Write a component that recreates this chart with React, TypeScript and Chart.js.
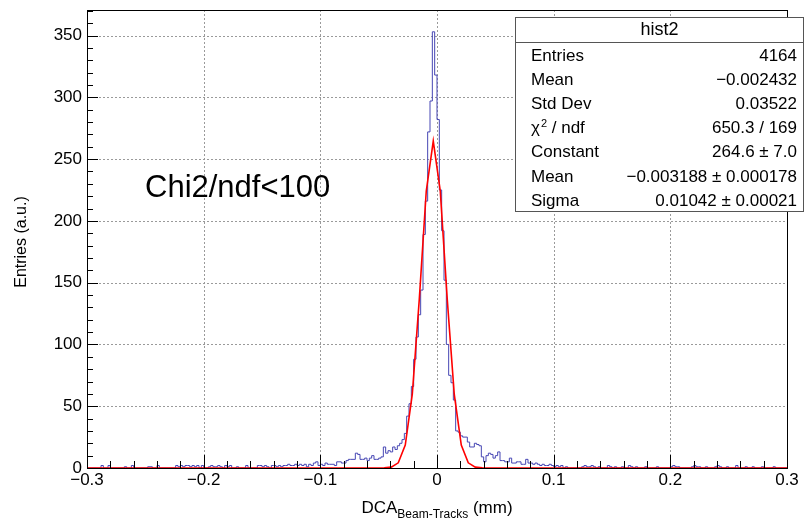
import React, { useEffect, useRef } from 'react';
import { Chart, registerables } from 'chart.js';

Chart.register(...registerables);

// ---- axis ranges / binning ----
const X_MIN = -0.3;
const X_MAX = 0.3;
const BIN_WIDTH = 0.002;
const Y_MAX = 370.65;

// ---- histogram counts (hist2), 300 bins of 0.002 from -0.3 to 0.3 ----
const countsLeftTail = [
  0, 0, 0, 0, 0, 0, 2, 0, 0, 2,
  0, 0, 0, 0, 0, 0, 1, 0, 0, 2,
  0, 0, 0, 0, 0, 0, 1, 1, 0, 0,
  2, 0, 0, 0, 0, 0, 0, 0, 2, 1,
  2, 1, 2, 2, 1, 2, 1, 2, 0, 2,
  0, 0, 1, 2, 1, 1, 2, 1, 0, 2,
  1, 2, 0, 0, 1, 0, 0, 0, 2, 0,
  0, 0, 0, 2, 2, 1, 2, 1, 0, 2,
  2, 1, 2, 1, 2, 2, 3, 2, 2, 3,
];
const countsCore = [
  2, 3, 2, 3, 1, 3, 2, 4, 5, 2,
  3, 2, 4, 3, 3, 3, 2, 5, 5, 4,
  4, 6, 7, 7, 7, 12, 11, 7, 7, 8,
  6, 8, 10, 7, 7, 8, 9, 17, 12, 14,
  13, 17, 15, 18, 20, 23, 28, 42, 52, 66,
  88, 106, 124, 144, 189, 216, 272, 297, 353, 318,
  282, 225, 192, 152, 100, 75, 69, 55, 30, 29,
  26, 25, 25, 21, 17, 17, 20, 19, 18, 9,
  5, 10, 12, 11, 8, 10, 13, 6, 6, 5,
  5, 8, 4, 4, 5, 5, 3, 3, 7, 4,
  4, 3, 4, 3, 2, 3, 2, 2, 3, 2,
  1, 2, 1, 2, 0, 1, 0, 0, 0, 0,
];
const countsRightTail = [
  0, 0, 1, 2, 1, 1, 2, 1, 0, 1,
  0, 0, 0, 2, 1, 0, 1, 0, 0, 1,
  0, 0, 2, 1, 0, 1, 0, 0, 0, 1,
  0, 0, 0, 0, 1, 0, 0, 0, 0, 0,
  1, 2, 1, 1, 0, 0, 0, 0, 0, 1,
  2, 1, 1, 0, 0, 1, 0, 0, 0, 1,
  2, 1, 0, 0, 1, 0, 0, 0, 2, 0,
  0, 0, 1, 0, 0, 1, 0, 0, 0, 1,
  0, 0, 0, 0, 1, 0, 0, 0, 0, 0,
];

// ---- gaussian fit curve, as drawn (sampled points) ----
const fitX = [-0.3, -0.0512, -0.0452, -0.0392, -0.0332, -0.0272, -0.0212, -0.0152, -0.0092, -0.0032,
  0.0028, 0.0088, 0.0148, 0.0208, 0.0268, 0.0328, 0.0388, 0.0448, 0.3];
const fitY = [0, 0, 0.08, 0.68, 4.2, 18.6, 59.5, 136.3, 224.2, 264.6,
  224.2, 136.3, 59.5, 18.6, 4.2, 0.68, 0.08, 0, 0];

// ---- ticks ----
const xTickValues = [-0.3, -0.2, -0.1, 0, 0.1, 0.2, 0.3];
const yTickValues = [0, 50, 100, 150, 200, 250, 300, 350];
const X_MINOR_STEP = 0.02;
const Y_MINOR_STEP = 10;

// ---- stats box ----
const statTitle = 'hist2';
const statLabels = ['Entries', 'Mean', 'Std Dev', 'CHI2', 'Constant', 'Mean', 'Sigma'];
const statValues = ['4164', '\u22120.002432', '0.03522', '650.3 / 169', '264.6 \u00b1 7.0',
  '\u22120.003188 \u00b1 0.000178', '0.01042 \u00b1 0.00021'];

const annotationText = 'Chi2/ndf<100';
const yTitle = 'Entries (a.u.)';
const xTitleMain = 'DCA';
const xTitleSub = 'Beam-Tracks';
const xTitleUnit = ' (mm)';

const FONT = '"Liberation Sans", Arial, Helvetica, sans-serif';

function fmtX(v: number): string {
  if (Math.abs(v) < 1e-9) return '0';
  const s = Math.abs(v).toFixed(1);
  return v < 0 ? '\u2212' + s : s;
}

const rootPlugin = {
  id: 'rootDecor',
  beforeDatasetsDraw(chart: any) {
    const ctx = chart.ctx;
    const { left, right, top, bottom } = chart.chartArea;
    const xs = chart.scales.x;
    const ys = chart.scales.y;
    ctx.save();
    ctx.strokeStyle = '#9a9a9a';
    ctx.lineWidth = 1;
    ctx.setLineDash([2, 2]);
    xTickValues.forEach((v) => {
      if (v <= X_MIN || v >= X_MAX) return;
      const px = Math.round(xs.getPixelForValue(v)) + 0.5;
      ctx.beginPath();
      ctx.moveTo(px, top);
      ctx.lineTo(px, bottom);
      ctx.stroke();
    });
    yTickValues.forEach((v) => {
      if (v <= 0) return;
      const py = Math.round(ys.getPixelForValue(v)) + 0.5;
      ctx.beginPath();
      ctx.moveTo(left, py);
      ctx.lineTo(right, py);
      ctx.stroke();
    });
    ctx.restore();
  },
  afterDatasetsDraw(chart: any) {
    const ctx = chart.ctx;
    const { left, right, top, bottom } = chart.chartArea;
    const xs = chart.scales.x;
    const ys = chart.scales.y;
    ctx.save();
    ctx.strokeStyle = '#000';
    ctx.lineWidth = 1;
    ctx.setLineDash([]);
    ctx.strokeRect(Math.round(left) + 0.5, Math.round(top) + 0.5, Math.round(right - left), Math.round(bottom - top));
    const nX = Math.round((X_MAX - X_MIN) / X_MINOR_STEP);
    for (let k = 0; k <= nX; k++) {
      const v = X_MIN + k * X_MINOR_STEP;
      const px = Math.round(xs.getPixelForValue(v)) + 0.5;
      const len = k % 5 === 0 ? 13 : 7;
      ctx.beginPath();
      ctx.moveTo(px, bottom);
      ctx.lineTo(px, bottom - len);
      ctx.stroke();
    }
    for (let k = 0; k * Y_MINOR_STEP <= Y_MAX; k++) {
      const v = k * Y_MINOR_STEP;
      const py = Math.round(ys.getPixelForValue(v)) + 0.5;
      const len = k % 5 === 0 ? 11 : 6;
      ctx.beginPath();
      ctx.moveTo(left, py);
      ctx.lineTo(left + len, py);
      ctx.stroke();
    }
    ctx.restore();
  },
  afterDraw(chart: any) {
    const ctx = chart.ctx;
    ctx.save();
    ctx.fillStyle = '#000';

    ctx.font = `31px ${FONT}`;
    ctx.textAlign = 'left';
    ctx.textBaseline = 'alphabetic';
    ctx.fillText(annotationText, 145, 197);

    ctx.save();
    ctx.translate(22, 242);
    ctx.rotate(-Math.PI / 2);
    ctx.font = `16px ${FONT}`;
    ctx.textAlign = 'center';
    ctx.textBaseline = 'middle';
    ctx.fillText(yTitle, 0, 0);
    ctx.restore();

    ctx.textAlign = 'left';
    ctx.textBaseline = 'alphabetic';
    ctx.font = `17px ${FONT}`;
    const w1 = ctx.measureText(xTitleMain).width;
    const w3 = ctx.measureText(xTitleUnit).width;
    ctx.font = `12px ${FONT}`;
    const w2 = ctx.measureText(xTitleSub).width;
    const total = w1 + w2 + w3;
    const x0 = 437 - total / 2;
    ctx.font = `17px ${FONT}`;
    ctx.fillText(xTitleMain, x0, 513);
    ctx.font = `12px ${FONT}`;
    ctx.fillText(xTitleSub, x0 + w1, 518);
    ctx.font = `17px ${FONT}`;
    ctx.fillText(xTitleUnit, x0 + w1 + w2, 513);

    const bx = 515.5, by = 17.5, bw = 288, bh = 194;
    ctx.fillStyle = '#fff';
    ctx.fillRect(bx, by, bw, bh);
    ctx.strokeStyle = '#555';
    ctx.lineWidth = 1;
    ctx.strokeRect(bx, by, bw, bh);
    ctx.beginPath();
    ctx.moveTo(bx, 42.5);
    ctx.lineTo(bx + bw, 42.5);
    ctx.stroke();
    ctx.fillStyle = '#000';
    ctx.font = `18px ${FONT}`;
    ctx.textAlign = 'center';
    ctx.textBaseline = 'middle';
    ctx.fillText(statTitle, bx + bw / 2, 30.5);
    statLabels.forEach((lab, i) => {
      const y = 56 + i * 24.2;
      ctx.textAlign = 'left';
      ctx.font = `17px ${FONT}`;
      if (lab === 'CHI2') {
        ctx.fillText('\u03c7', 531, y);
        const wc = ctx.measureText('\u03c7').width;
        ctx.font = `11px ${FONT}`;
        ctx.fillText('2', 531 + wc + 1, y - 5);
        const w2s = ctx.measureText('2').width;
        ctx.font = `17px ${FONT}`;
        ctx.fillText(' / ndf', 531 + wc + 1 + w2s, y);
      } else {
        ctx.fillText(lab, 531, y);
      }
      ctx.textAlign = 'right';
      ctx.fillText(statValues[i], 797, y);
    });
    ctx.restore();
  },
};

export default function App() {
  const ref = useRef<HTMLCanvasElement | null>(null);
  useEffect(() => {
    const canvas = ref.current;
    if (!canvas) return;
    const counts = [...countsLeftTail, ...countsCore, ...countsRightTail];
    const histPts = counts.map((c, i) => ({ x: X_MIN + i * BIN_WIDTH, y: c }));
    histPts.push({ x: X_MAX, y: counts[counts.length - 1] });
    const fitPts = fitX.map((x, i) => ({ x, y: fitY[i] }));

    const chart = new Chart(canvas, {
      type: 'line',
      data: {
        datasets: [
          {
            label: 'fit',
            data: fitPts,
            borderColor: '#ff0000',
            borderWidth: 1.6,
            pointRadius: 0,
            tension: 0,
            fill: false,
            order: 0,
          },
          {
            label: 'hist2',
            data: histPts,
            borderColor: '#4646b4',
            borderWidth: 1,
            pointRadius: 0,
            stepped: 'before',
            fill: false,
            order: 1,
          },
        ],
      },
      options: {
        responsive: false,
        animation: false,
        devicePixelRatio: 1,
        layout: { padding: { left: 0, right: 17, top: 10, bottom: 0 } },
        plugins: {
          legend: { display: false },
          tooltip: { enabled: false },
          title: { display: false },
        },
        scales: {
          x: {
            type: 'linear',
            min: X_MIN,
            max: X_MAX,
            grid: { display: false, drawTicks: false },
            border: { display: false },
            afterBuildTicks: (scale: any) => {
              scale.ticks = xTickValues.map((v) => ({ value: v }));
            },
            afterFit: (scale: any) => {
              scale.height = 52;
              scale.paddingLeft = 0;
              scale.paddingRight = 0;
            },
            ticks: {
              autoSkip: false,
              maxRotation: 0,
              padding: 2,
              color: '#000',
              font: { family: FONT, size: 17 },
              callback: (v: any) => fmtX(Number(v)),
            },
          },
          y: {
            type: 'linear',
            min: 0,
            max: Y_MAX,
            grid: { display: false, drawTicks: false },
            border: { display: false },
            afterBuildTicks: (scale: any) => {
              scale.ticks = yTickValues.map((v) => ({ value: v }));
            },
            afterFit: (scale: any) => {
              scale.width = 87;
              scale.paddingTop = 0;
              scale.paddingBottom = 0;
            },
            ticks: {
              autoSkip: false,
              padding: 5,
              color: '#000',
              font: { family: FONT, size: 17 },
              callback: (v: any) => String(v),
            },
          },
        },
      },
      plugins: [rootPlugin],
    } as any);
    return () => chart.destroy();
  }, []);

  return (
    <div style={{ position: 'fixed', left: 0, top: 0, width: 804, height: 520, background: '#fff' }}>
      <canvas ref={ref} width={804} height={520} style={{ width: 804, height: 520, display: 'block' }} />
    </div>
  );
}
